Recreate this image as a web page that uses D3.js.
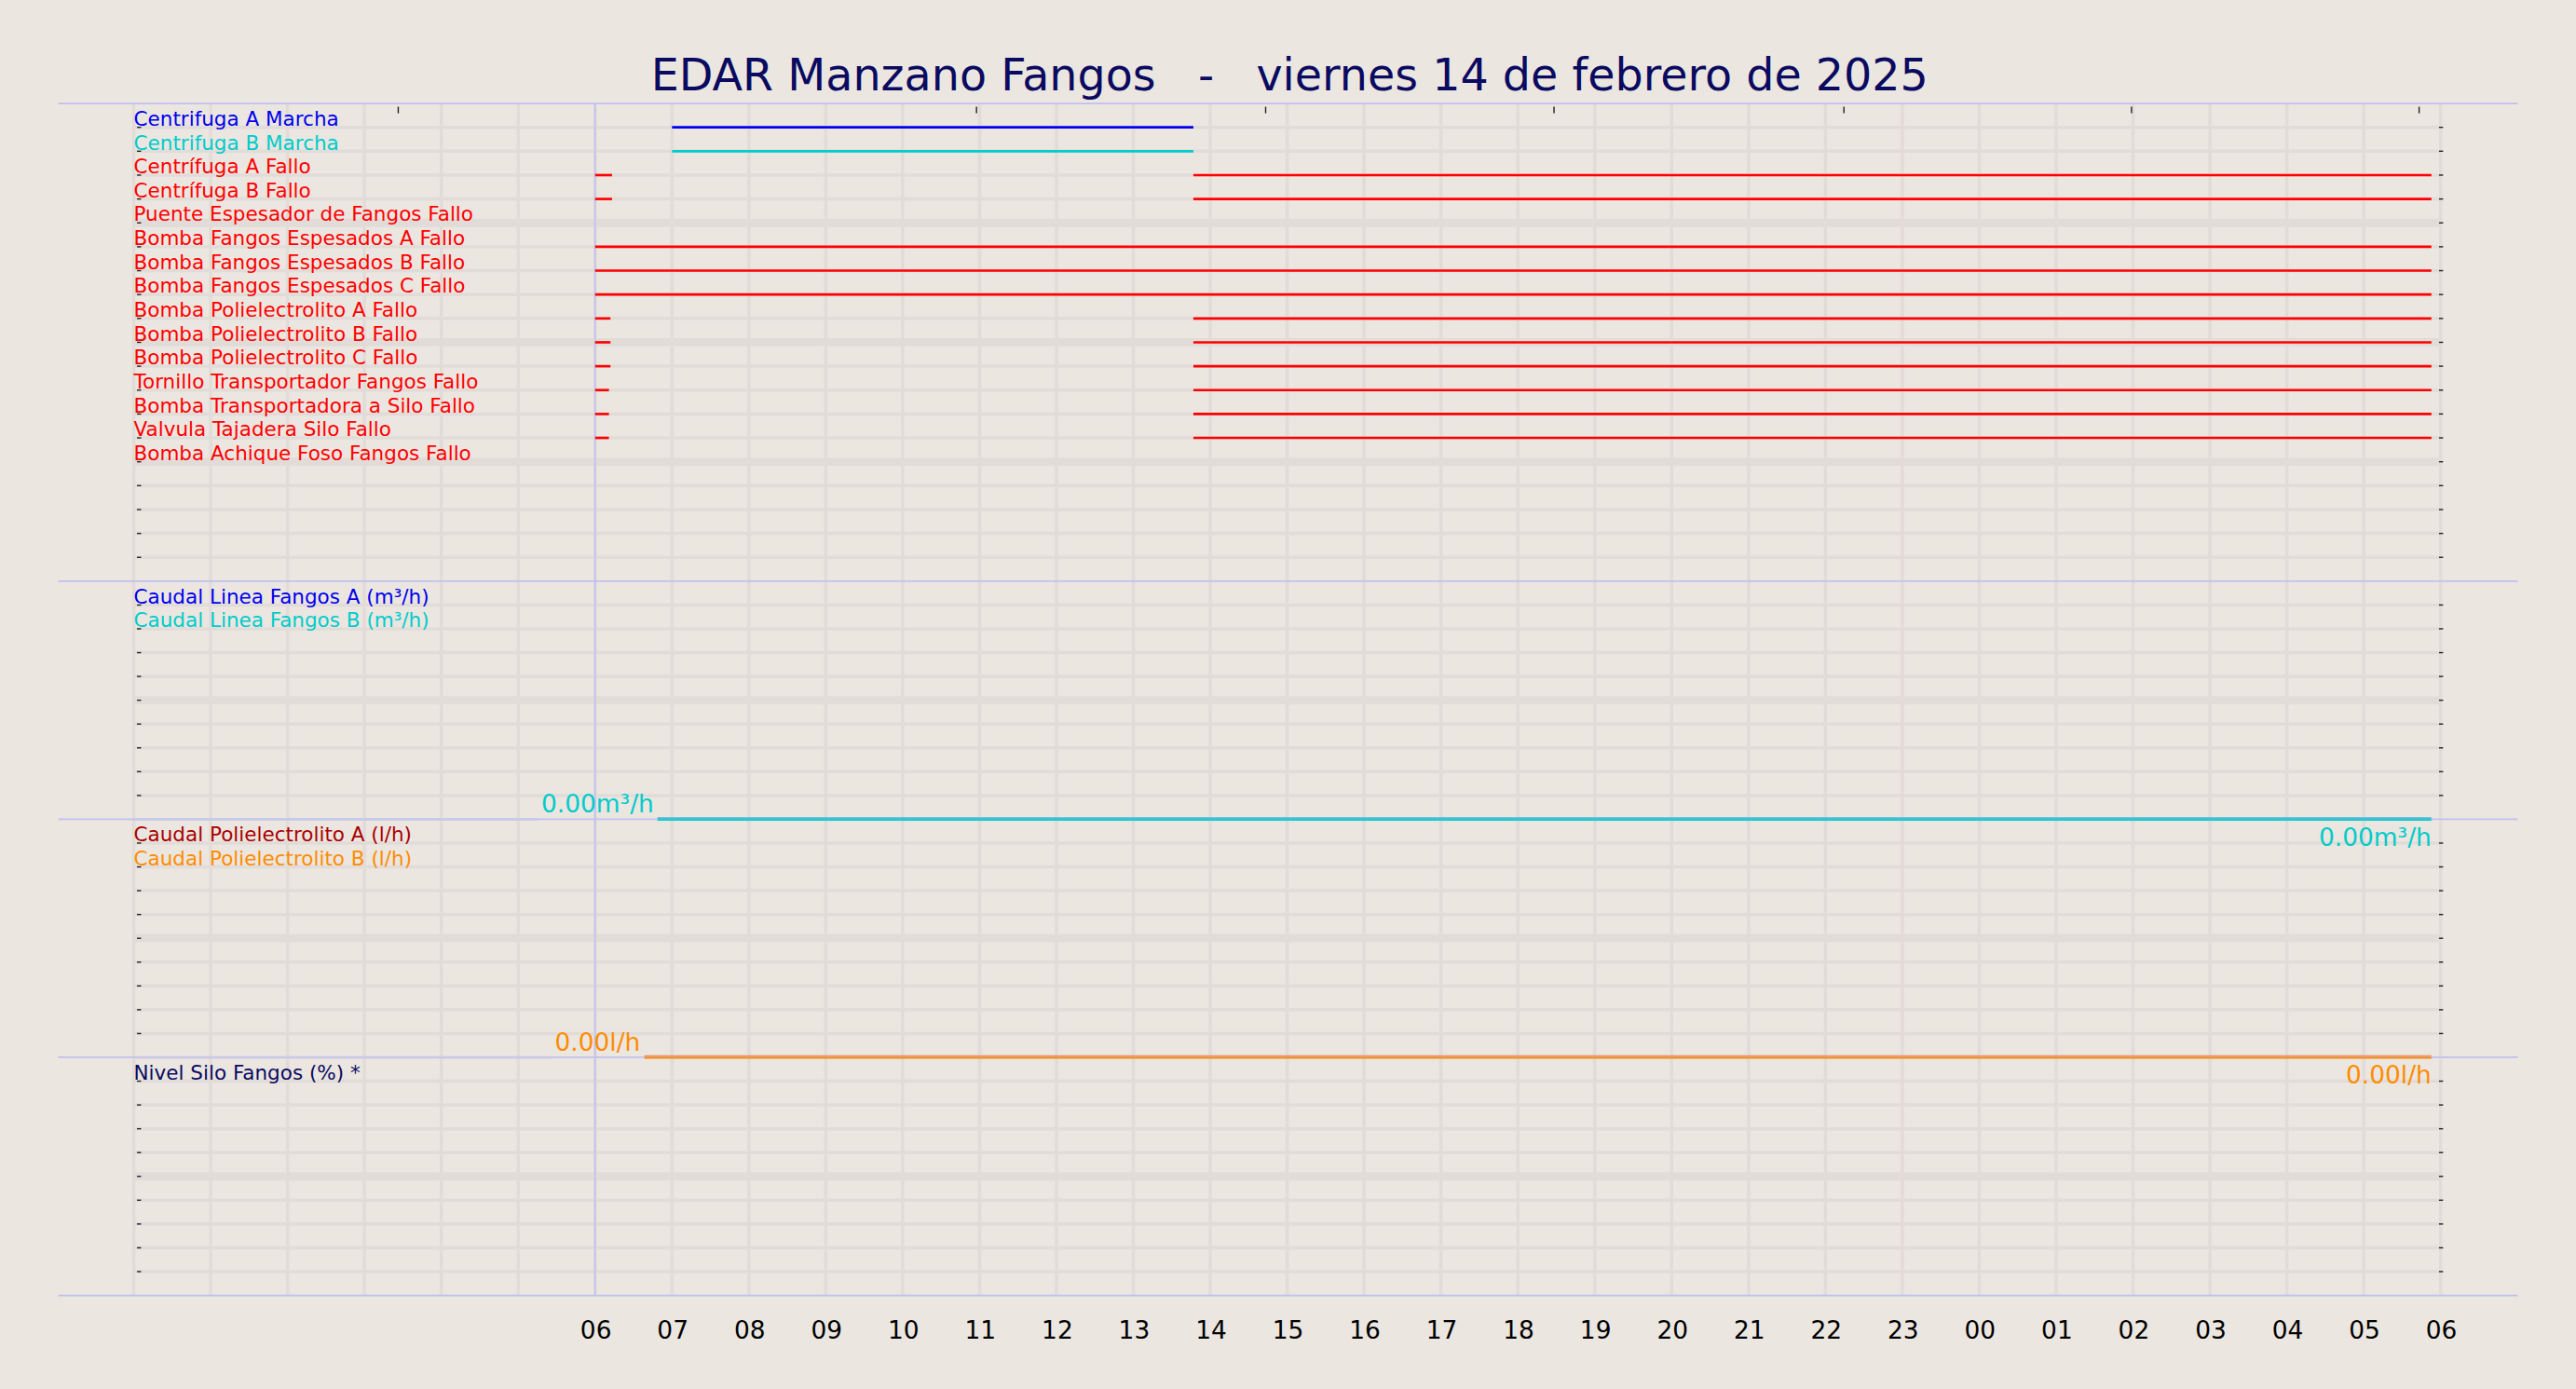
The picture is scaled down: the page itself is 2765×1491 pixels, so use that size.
<!DOCTYPE html><html><head><meta charset="utf-8"><script src="https://cdn.jsdelivr.net/npm/d3@7"></script>
<style>body{margin:0;background:#ebe6e0}</style></head><body><svg id="c" width="2765" height="1491" viewBox="0 0 1568 846"></svg>
<script>
const title = "EDAR Manzano Fangos   -   viernes 14 de febrero de 2025";
const signalNames = ["Centrifuga A Marcha","Centrifuga B Marcha","Centrífuga A Fallo","Centrífuga B Fallo","Puente Espesador de Fangos Fallo","Bomba Fangos Espesados A Fallo","Bomba Fangos Espesados B Fallo","Bomba Fangos Espesados C Fallo","Bomba Polielectrolito A Fallo","Bomba Polielectrolito B Fallo","Bomba Polielectrolito C Fallo","Tornillo Transportador Fangos Fallo","Bomba Transportadora a Silo Fallo","Valvula Tajadera Silo Fallo","Bomba Achique Foso Fangos Fallo"];
const signalColors = ["#0000ee","#00cccc","red","red","red","red","red","red","red","red","red","red","red","red","red"];
// active intervals in hours from 00:00
const signalIntervals = [
 [[7,13.78]],[[7,13.78]],[[6,6.22],[13.78,29.88]],[[6,6.22],[13.78,29.88]],[],
 [[6,29.88]],[[6,29.88]],[[6,29.88]],
 [[6,6.2],[13.78,29.88]],[[6,6.2],[13.78,29.88]],[[6,6.2],[13.78,29.88]],[[6,6.18],[13.78,29.88]],[[6,6.18],[13.78,29.88]],[[6,6.18],[13.78,29.88]],[]];
const tickHours = d3.range(6,31);
const tickLabels = tickHours.map(h=>String(h%24).padStart(2,"0"));
const topTickHours = [3.44,10.96,14.72,18.47,22.24,25.98,29.72];
const panels = [
 {top:63,bottom:354,rows:20},
 {top:354,bottom:499,rows:10,labels:["Caudal Linea Fangos A (m³/h)","Caudal Linea Fangos B (m³/h)"],colors:["#0000ee","#00cccc"]},
 {top:499,bottom:644,rows:10,labels:["Caudal Polielectrolito A (l/h)","Caudal Polielectrolito B (l/h)"],colors:["#aa0000","#ff8c00"]},
 {top:644,bottom:789,rows:10,labels:["Nivel Silo Fangos (%) *"],colors:["#0a0a60"]}];
const flowA = [[0,0],[29.88,0]], flowB=[[0,0],[29.88,0]];
const polyA = [[0,0],[29.88,0]], polyB=[[0,0],[29.88,0]];
const flowLabel="0.00m³/h", polyLabel="0.00l/h";

const svg=d3.select("#c");
const x=d3.scaleLinear().domain([0,30]).range([81,1486]);
svg.append("text").attr("x",785).attr("y",55).attr("text-anchor","middle").style("white-space","pre").attr("xml:space","preserve").attr("font-family","DejaVu Sans").attr("font-size",27).attr("fill","#0a0a60").text(title);
panels.forEach(p=>{
  const y=d3.scaleLinear().domain([0,p.rows]).range([p.top,p.bottom]);
  p.y=y;
  d3.range(1,p.rows).forEach(i=>{
    svg.append("line").attr("x1",81).attr("x2",1486).attr("y1",y(i)).attr("y2",y(i)).attr("stroke","#e2dcd9").attr("stroke-width",i%5==0?5:2);
  });
});
d3.range(0,31).forEach(h=>svg.append("line").attr("x1",x(h)).attr("x2",x(h)).attr("y1",63).attr("y2",789).attr("stroke","#e2dcd9").attr("stroke-width",2));
panels.forEach(p=>{d3.range(1,p.rows).forEach(i=>{[x(0)+2,x(30)-1].forEach(xx=>svg.append("line").attr("x1",xx).attr("x2",xx+2.5).attr("y1",p.y(i)).attr("y2",p.y(i)).attr("stroke","#222").attr("stroke-width",0.8));});});
topTickHours.forEach(h=>svg.append("line").attr("x1",x(h)).attr("x2",x(h)).attr("y1",65).attr("y2",69).attr("stroke","#222").attr("stroke-width",0.8));
[63,354,499,644,789].forEach(yy=>svg.append("line").attr("x1",35).attr("x2",1533).attr("y1",yy).attr("y2",yy).attr("stroke","#c0c0f0").attr("stroke-width",1));
svg.append("line").attr("x1",x(6)).attr("x2",x(6)).attr("y1",63).attr("y2",789).attr("stroke","#c0c0f0").attr("stroke-width",1);
const ax=d3.axisBottom(x).tickValues(tickHours).tickFormat((d,i)=>tickLabels[i]).tickSize(0).tickPadding(8);
const g=svg.append("g").attr("transform","translate(0,797)").call(ax);
g.select(".domain").remove();
g.selectAll("text").attr("font-family","DejaVu Sans").attr("font-size",15).attr("fill","#000").attr("dy","0.7em");
const p0=panels[0];
signalNames.forEach((n,i)=>{
  const yy=p0.y(i+1);
  svg.append("text").attr("x",81).attr("y",yy-1).attr("font-family","DejaVu Sans").attr("font-size",12.2).attr("fill",signalColors[i]).text(n);
  signalIntervals[i].forEach(iv=>svg.append("line").attr("x1",x(iv[0])).attr("x2",x(iv[1])).attr("y1",yy).attr("y2",yy).attr("stroke",signalColors[i]).attr("stroke-width",1.5));
});
panels.slice(1).forEach(p=>{p.labels.forEach((l,i)=>svg.append("text").attr("x",81).attr("y",p.y(i+1)-1).attr("font-family","DejaVu Sans").attr("font-size",12.2).attr("fill",p.colors[i]).text(l));});
function flow(p,dataA,dataB,cA,cB,label,lx0,lx1){
  const yv=d3.scaleLinear().domain([0,100]).range([p.bottom,p.top]);
  const ln=d3.line().x(d=>x(d[0])).y(d=>yv(d[1]));
  svg.append("line").attr("x1",81).attr("x2",lx0).attr("y1",p.bottom).attr("y2",p.bottom).attr("stroke","#c8c8e8").attr("stroke-width",1.5);
  svg.append("path").attr("d",ln(dataA.map(d=>[Math.max(d[0],x.invert(lx1)),d[1]]))).attr("stroke",cA).attr("stroke-width",1).attr("fill","none").attr("transform","translate(0,-0.8)");
  svg.append("path").attr("d",ln(dataB.map(d=>[Math.max(d[0],x.invert(lx1)),d[1]]))).attr("stroke",cB).attr("stroke-width",1).attr("fill","none").attr("transform","translate(0,0.4)");
  svg.append("text").attr("x",(lx0+lx1)/2).attr("y",p.bottom-4).attr("text-anchor","middle").attr("font-family","DejaVu Sans").attr("font-size",15).attr("fill",cB).text(label);
  svg.append("text").attr("x",x(29.88)).attr("y",p.bottom+16).attr("text-anchor","end").attr("font-family","DejaVu Sans").attr("font-size",15).attr("fill",cB).text(label);
}
flow(panels[1],flowA,flowB,"#4db8d8","#00cccc",flowLabel,327,400);
flow(panels[2],polyA,polyB,"#e8906a","#ff8c00",polyLabel,335,392);
</script></body></html>
